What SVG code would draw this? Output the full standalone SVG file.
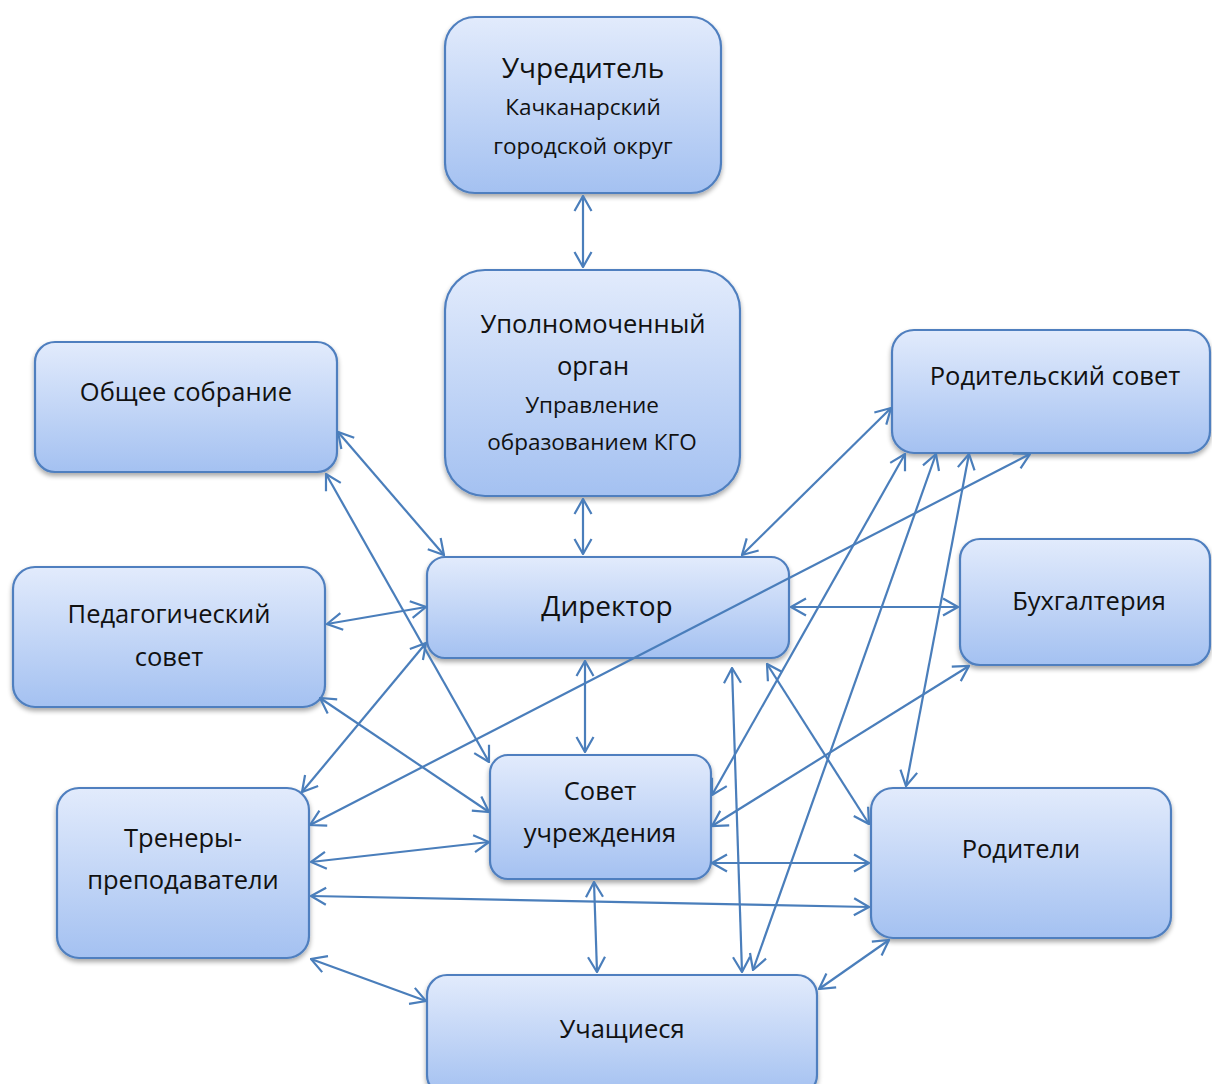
<svg xmlns="http://www.w3.org/2000/svg" width="1212" height="1084" viewBox="0 0 1212 1084">
<defs>
<linearGradient id="g" x1="0" y1="0" x2="0" y2="1">
<stop offset="0" stop-color="#e2ebfc"/>
<stop offset="1" stop-color="#a4c1f1"/>
</linearGradient>
<filter id="sh" x="-10%" y="-10%" width="120%" height="130%">
<feGaussianBlur in="SourceAlpha" stdDeviation="2.5"/>
<feOffset dy="3" result="b"/>
<feComponentTransfer><feFuncA type="linear" slope="0.35"/></feComponentTransfer>
<feMerge><feMergeNode/><feMergeNode in="SourceGraphic"/></feMerge>
</filter>
<marker id="ah" viewBox="0 0 18 20" refX="17" refY="10" markerWidth="18" markerHeight="20" markerUnits="userSpaceOnUse" orient="auto-start-reverse">
<path d="M2,1.5 L17,10 L2,18.5" fill="none" stroke="#4a7ebb" stroke-width="2.2"/>
</marker>
</defs>
<style>
.box{fill:url(#g);stroke:#4f7fbf;stroke-width:2.2;filter:url(#sh)}
text{font-family:"Open Sans","Liberation Sans",sans-serif;fill:#111;text-anchor:middle}
.t{font-size:25.5px}
.s{font-size:22.5px}
.b{font-size:28px}
.c line{stroke:#4a7ebb;stroke-width:2.2;marker-start:url(#ah);marker-end:url(#ah)}
</style>
<rect width="1212" height="1084" fill="#fff"/>
<g id="uchreditel"><rect class="box" x="445" y="17" width="276" height="176" rx="30"/>
<text class="b" x="583" y="78">Учредитель</text>
<text class="s" x="583" y="115">Качканарский</text>
<text class="s" x="583" y="154">городской округ</text></g>
<g id="upolnomochenny"><rect class="box" x="445" y="270" width="295" height="226" rx="40"/>
<text class="t" x="593" y="333">Уполномоченный</text>
<text class="t" x="593" y="375">орган</text>
<text class="s" x="592" y="413">Управление</text>
<text class="s" x="592" y="450">образованием КГО</text></g>
<g id="obshchee"><rect class="box" x="35" y="342" width="302" height="130" rx="20"/>
<text class="t" x="186" y="401">Общее собрание</text></g>
<g id="roditelsky-sovet"><rect class="box" x="892" y="330" width="318" height="123" rx="22"/>
<text class="t" x="1055" y="385">Родительский совет</text></g>
<g id="buhgalteria"><rect class="box" x="960" y="539" width="250" height="126" rx="20"/>
<text class="t" x="1089" y="610">Бухгалтерия</text></g>
<g id="pedsovet"><rect class="box" x="13" y="567" width="312" height="140" rx="22"/>
<text class="t" x="169" y="623">Педагогический</text>
<text class="t" x="169" y="666">совет</text></g>
<g id="direktor"><rect class="box" x="427" y="557" width="362" height="101" rx="18"/>
<text class="b" x="607" y="616">Директор</text></g>
<g id="trenery"><rect class="box" x="57" y="788" width="252" height="170" rx="22"/>
<text class="t" x="183" y="847">Тренеры-</text>
<text class="t" x="183" y="889">преподаватели</text></g>
<g id="sovet-uchrezhdenia"><rect class="box" x="490" y="755" width="221" height="124" rx="18"/>
<text class="t" x="600" y="800">Совет</text>
<text class="t" x="600" y="842">учреждения</text></g>
<g id="roditeli"><rect class="box" x="871" y="788" width="300" height="150" rx="22"/>
<text class="t" x="1021" y="858">Родители</text></g>
<g id="uchashchiesya"><rect class="box" x="427" y="975" width="390" height="120" rx="20"/>
<text class="t" x="622" y="1038">Учащиеся</text></g>
<g id="connectors" class="c">
<line x1="583" y1="196" x2="583" y2="267"/>
<line x1="583" y1="499" x2="583" y2="554"/>
<line x1="338" y1="432" x2="444" y2="555"/>
<line x1="326" y1="474" x2="489" y2="762"/>
<line x1="327" y1="624" x2="426" y2="607"/>
<line x1="426" y1="643" x2="302" y2="792"/>
<line x1="320" y1="698" x2="489" y2="812"/>
<line x1="1030" y1="454" x2="310" y2="825"/>
<line x1="311" y1="862" x2="489" y2="842"/>
<line x1="311" y1="896" x2="869" y2="907"/>
<line x1="311" y1="959" x2="426" y2="1001"/>
<line x1="585" y1="661" x2="585" y2="752"/>
<line x1="594" y1="882" x2="597" y2="972"/>
<line x1="732" y1="668" x2="742" y2="972"/>
<line x1="767" y1="664" x2="869" y2="824"/>
<line x1="891" y1="408" x2="742" y2="555"/>
<line x1="791" y1="607" x2="958" y2="607"/>
<line x1="905" y1="454" x2="712" y2="795"/>
<line x1="969" y1="666" x2="712" y2="826"/>
<line x1="712" y1="863" x2="869" y2="863"/>
<line x1="936" y1="454" x2="753" y2="970"/>
<line x1="969" y1="454" x2="906" y2="786"/>
<line x1="889" y1="940" x2="819" y2="989"/>
</g>
</svg>
